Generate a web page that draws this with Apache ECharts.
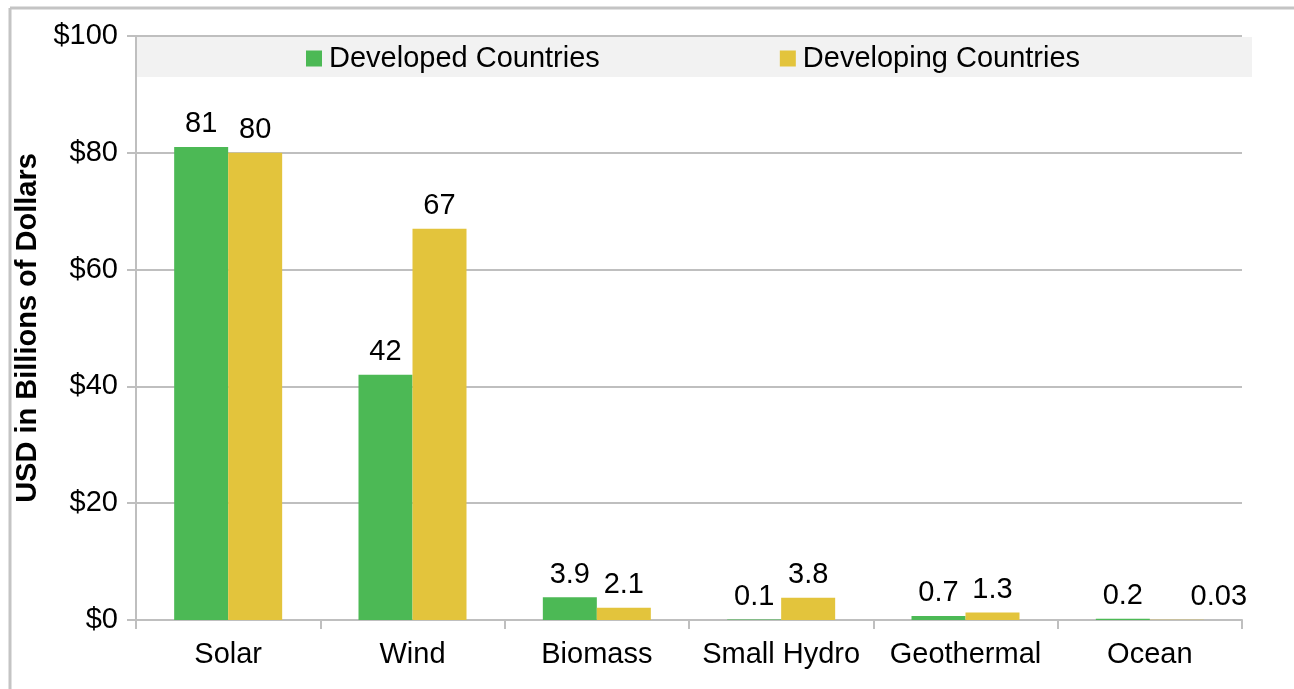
<!DOCTYPE html>
<html>
<head>
<meta charset="utf-8">
<script src="https://cdn.jsdelivr.net/npm/echarts@6/dist/echarts.min.js"></script>
<style>html,body{margin:0;padding:0;background:#fff;}#c{width:1294px;height:689px;}</style>
</head>
<body>
<div id="c"></div>
<script>
var categories = ['Solar', 'Wind', 'Biomass', 'Small Hydro', 'Geothermal', 'Ocean'];
var developed = [81, 42, 3.9, 0.1, 0.7, 0.2];
var developing = [80, 67, 2.1, 3.8, 1.3, 0.03];
var seriesNames = ['Developed Countries', 'Developing Countries'];
var yTicks = [0, 20, 40, 60, 80, 100];

var FONT = '"Liberation Sans", Arial, Helvetica, sans-serif';
var FS = 29;
var chart = echarts.init(document.getElementById('c'));
function labelStyle() {
  return {
    show: true, position: 'top', distance: 8,
    color: '#000', fontSize: FS, fontFamily: FONT,
    formatter: function (p) { return String(p.value); }
  };
}
var developingData = developing.map(function (v, i) {
  return i === developing.length - 1 ? { value: v, label: { offset: [42, 0] } } : v;
});
chart.setOption({
  animation: false,
  backgroundColor: '#fff',
  graphic: [
    { type: 'line', shape: { x1: 10, y1: 8, x2: 1294, y2: 8 }, style: { stroke: '#c4c4c4', lineWidth: 3 }, z: 0 },
    { type: 'line', shape: { x1: 10, y1: 8, x2: 10, y2: 689 }, style: { stroke: '#c4c4c4', lineWidth: 3 }, z: 0 },
    { type: 'rect', shape: { x: 137, y: 37, width: 1115, height: 40 }, style: { fill: '#f2f2f2' }, z: 1 }
  ],
  legend: {
    data: seriesNames,
    left: 301, top: 39,
    itemWidth: 16, itemHeight: 16, itemGap: 180,
    icon: 'rect',
    textStyle: { fontSize: FS, fontFamily: FONT, color: '#000', padding: [0, 0, 0, 2] },
    z: 5
  },
  grid: { left: 136, right: 52, top: 36, bottom: 69 },
  xAxis: {
    type: 'category',
    data: categories,
    axisLine: { lineStyle: { color: '#bfbfbf', width: 2 } },
    axisTick: { show: true, length: 9, lineStyle: { color: '#bfbfbf', width: 2 } },
    axisLabel: { interval: 0, color: '#000', fontSize: FS, fontFamily: FONT, margin: 20 }
  },
  yAxis: {
    type: 'value',
    min: 0, max: 100, interval: 20,
    name: 'USD in Billions of Dollars',
    nameLocation: 'middle',
    nameGap: 83,
    nameTextStyle: { color: '#000', fontSize: 29, fontWeight: 'bold', fontFamily: FONT },
    axisLine: { show: true, lineStyle: { color: '#bfbfbf', width: 2 } },
    axisTick: { show: true, length: 9, lineStyle: { color: '#bfbfbf', width: 2 } },
    splitLine: { show: true, lineStyle: { color: '#bfbfbf', width: 2 } },
    axisLabel: {
      color: '#000', fontSize: FS, fontFamily: FONT, margin: 18,
      formatter: function (v) { return yTicks.indexOf(v) >= 0 ? '$' + v : ''; }
    }
  },
  series: [
    { name: seriesNames[0], type: 'bar', data: developed, barWidth: 54, barGap: '0%',
      itemStyle: { color: '#4cb955' }, label: labelStyle() },
    { name: seriesNames[1], type: 'bar', data: developingData, barWidth: 54, barGap: '0%',
      itemStyle: { color: '#e3c43c' }, label: labelStyle() }
  ]
});
</script>
</body>
</html>
